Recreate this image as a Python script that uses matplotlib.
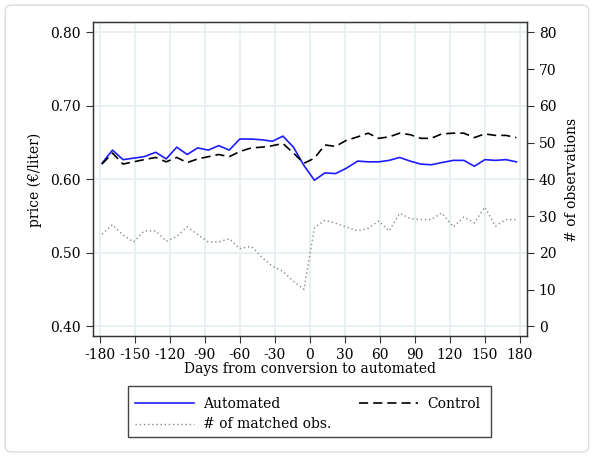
import matplotlib
matplotlib.use("Agg")
import matplotlib.pyplot as plt
from matplotlib.patches import FancyBboxPatch, Rectangle

plt.rcParams["font.family"] = "DejaVu Serif"
plt.rcParams["font.size"] = 10

# days relative to conversion (bin centres)
days = [-178, -169, -160, -151, -142, -132, -123, -114, -105, -96,
        -87, -78, -69, -60, -50, -41, -32, -23, -14, -5,
        4, 13, 22, 31, 41, 50, 59, 68, 77, 86,
        95, 104, 113, 123, 132, 141, 150, 159, 168, 177]

# average price, euro per liter
automated = [0.622, 0.640, 0.627, 0.629, 0.631, 0.637, 0.628, 0.644, 0.634, 0.643,
             0.640, 0.646, 0.640, 0.655, 0.655, 0.654, 0.652, 0.659, 0.644, 0.619,
             0.599, 0.609, 0.608, 0.615, 0.625, 0.624, 0.624, 0.626, 0.630, 0.625,
             0.621, 0.620, 0.623, 0.626, 0.626, 0.618, 0.627, 0.626, 0.627, 0.624]
control = [0.621, 0.636, 0.621, 0.624, 0.627, 0.630, 0.624, 0.630, 0.623, 0.628,
           0.631, 0.634, 0.631, 0.638, 0.643, 0.644, 0.646, 0.649, 0.636, 0.622,
           0.629, 0.647, 0.645, 0.653, 0.658, 0.663, 0.656, 0.658, 0.663, 0.661,
           0.656, 0.656, 0.662, 0.663, 0.663, 0.657, 0.662, 0.660, 0.660, 0.657]

# number of matched stations per bin
matched = [25.1, 27.7, 24.9, 23.0, 26.0, 26.0, 23.2, 24.5, 27.1, 25.0,
           23.0, 23.0, 23.9, 21.2, 21.8, 18.8, 16.4, 15.0, 12.3, 10.1,
           26.9, 28.9, 28.1, 27.1, 26.0, 26.7, 28.7, 26.0, 30.8, 29.4,
           29.1, 29.1, 30.9, 27.1, 29.8, 28.2, 32.5, 27.3, 29.1, 29.1]

xticks = list(range(-180, 181, 30))
price_ticks = [0.4, 0.5, 0.6, 0.7, 0.8]
grid_col = "#e6eff1"
ylo, yhi = 0.3864, 0.8136

fig = plt.figure(figsize=(5.94, 4.57), dpi=100)
fig.patches.append(FancyBboxPatch((0.009, 0.011), 0.982, 0.978,
                                  boxstyle="round,pad=0,rounding_size=0.012",
                                  transform=fig.transFigure, fill=False,
                                  edgecolor="#dcdcdc", linewidth=1.0))

ax = fig.add_axes([0.156, 0.2637, 0.731, 0.6871])
ax2 = ax.twinx()
ax.set_zorder(ax2.get_zorder() + 1)
ax.patch.set_visible(False)

l1, = ax.plot(days, automated, color="#1c1cff", lw=1.2, label="Automated")
l2, = ax.plot(days, control, color="black", lw=1.2, ls=(0, (5.5, 3)), label="Control")
l3, = ax2.plot(days, matched, color="#8a8a8a", lw=1.0, ls=(0, (1, 2)),
               label="# of matched obs.")

ax.set_xlim(-186, 186)
ax.set_ylim(ylo, yhi)
ax2.set_ylim((ylo - 0.4) * 200, (yhi - 0.4) * 200)

ax.set_xticks(xticks)
ax.set_xticklabels([str(t) for t in xticks])
ax.set_yticks(price_ticks)
ax.set_yticklabels(["%.2f" % v for v in price_ticks])
ax2.set_yticks(range(0, 81, 10))

for t in xticks:
    ax2.axvline(t, color=grid_col, lw=1.3, zorder=0)
for v in price_ticks:
    ax2.axhline((v - 0.4) * 200, color=grid_col, lw=1.3, zorder=0)

for a in (ax, ax2):
    a.tick_params(direction="out", length=5, width=0.8, color="#333333", labelsize=10)
    for s in a.spines.values():
        s.set_color("#333333")
        s.set_linewidth(0.9)

ax.set_xlabel("Days from conversion to automated", labelpad=0)
ax.set_ylabel("price (€/liter)", labelpad=6)
ax2.set_ylabel("# of observations", labelpad=6)

# legend box below the plot
fig.patches.append(Rectangle((0.2155, 0.0438), 0.611, 0.1116,
                             transform=fig.transFigure, fill=False,
                             edgecolor="#444444", linewidth=1.0))
fig.legend(handles=[l1, l3, l2], loc="upper left", ncol=2,
           bbox_to_anchor=(0.2273, 0.131), frameon=False,
           handlelength=4.25, handletextpad=0.65, borderpad=0, borderaxespad=0,
           fontsize=10, labelspacing=0.45, columnspacing=2.0)

fig.savefig("out.png", dpi=100)
